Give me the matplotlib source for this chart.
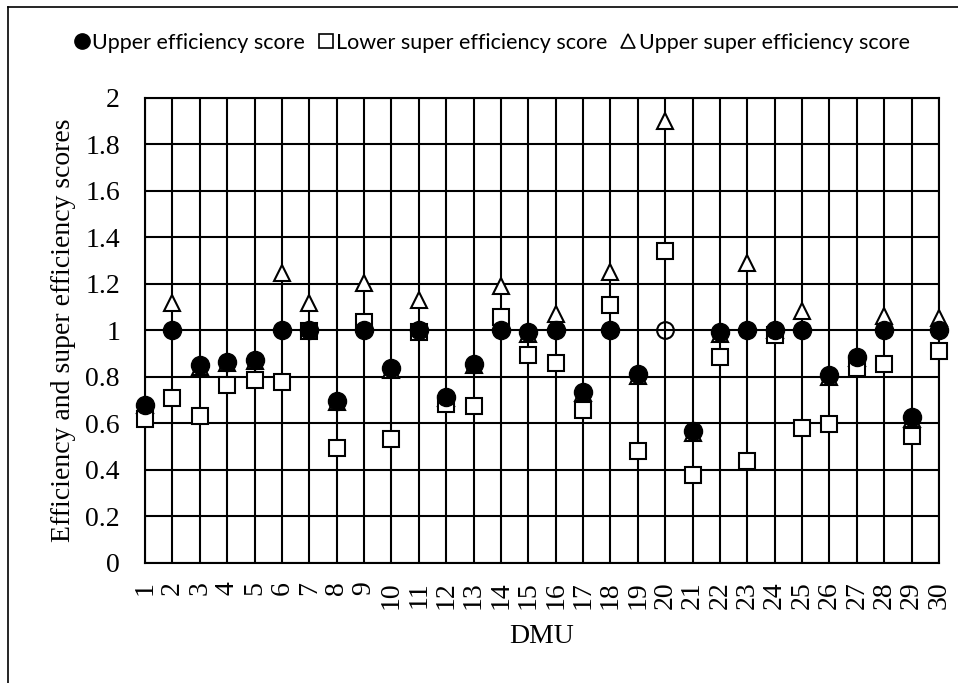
import matplotlib
matplotlib.use("Agg")
import matplotlib.pyplot as plt
from matplotlib.lines import Line2D

dmu = list(range(1, 31))
upper_eff = [0.677, 1.0, 0.85, 0.865, 0.873, 1.0, 1.0, 0.696, 1.0, 0.836,
             1.0, 0.714, 0.853, 1.0, 0.991, 1.0, 0.736, 1.0, 0.81, 1.0,
             0.566, 0.991, 1.0, 1.0, 1.0, 0.806, 0.887, 1.0, 0.628, 1.0]
lower_super = [0.618, 0.707, 0.63, 0.763, 0.785, 0.778, 0.995, 0.492, 1.037, 0.533,
               0.991, 0.684, 0.674, 1.055, 0.892, 0.859, 0.658, 1.107, 0.481, 1.342,
               0.376, 0.883, 0.437, 0.978, 0.578, 0.596, 0.836, 0.855, 0.544, 0.911]
upper_super = [0.677, 1.117, 0.84, 0.86, 0.87, 1.247, 1.117, 0.69, 1.203, 0.83,
               1.129, 0.71, 0.85, 1.188, 0.985, 1.07, 0.73, 1.25, 0.805, 1.899,
               0.56, 0.985, 1.287, 1.0, 1.081, 0.8, 0.88, 1.061, 0.62, 1.052]
# DMU 20 upper efficiency drawn as an open circle in the original
open_dmu = [20]

serif = "Liberation Serif"

fig = plt.figure(figsize=(9.58, 6.83), dpi=100)
ax = fig.add_axes([145 / 958, 1 - 563 / 683, 794 / 958, 465.5 / 683])

ax.plot(dmu, upper_super, ls="none", marker="^", ms=11, mfc="white", mec="black",
        mew=1.5, zorder=3, clip_on=False, label="Upper super efficiency score")
ax.plot(dmu, lower_super, ls="none", marker="s", ms=11, mfc="white", mec="black",
        mew=1.5, zorder=4, clip_on=False, label="Lower super efficiency score")

filled_x = [d for d in dmu if d not in open_dmu]
filled_y = [v for d, v in zip(dmu, upper_eff) if d not in open_dmu]
open_y = [v for d, v in zip(dmu, upper_eff) if d in open_dmu]
ax.plot(filled_x, filled_y, ls="none", marker="o", ms=13, mfc="black", mec="black",
        zorder=5, clip_on=False, label="Upper efficiency score")
ax.plot(open_dmu, open_y, ls="none", marker="o", ms=12, mfc="none", mec="black",
        mew=1.5, zorder=5, clip_on=False)

ax.set_xlim(1, 30)
ax.set_ylim(0, 2)
ax.set_xticks(dmu)
ax.set_xticklabels([str(d) for d in dmu], rotation=90, fontfamily=serif, fontsize=20)
ax.set_yticks([i / 5 for i in range(11)])
ax.set_yticklabels(["0", "0.2", "0.4", "0.6", "0.8", "1", "1.2", "1.4", "1.6", "1.8", "2"],
                   fontfamily=serif, fontsize=20)
ax.tick_params(axis="y", length=0, pad=18)
ax.tick_params(axis="x", length=0, pad=13)
ax.grid(True, color="black", lw=1.5)
ax.set_axisbelow(True)
for s in ax.spines.values():
    s.set_linewidth(1.5)

ax.set_xlabel("DMU", fontfamily=serif, fontsize=20)
ax.xaxis.set_label_coords(0.5, -0.131)
ax.set_ylabel("Efficiency and super efficiency scores", fontfamily=serif, fontsize=20)
ax.yaxis.set_label_coords(-0.087, 0.5)

handles = [
    Line2D([], [], ls="none", marker="o", ms=11, mfc="black", mec="black"),
    Line2D([], [], ls="none", marker="s", ms=10, mfc="white", mec="black", mew=1.2),
    Line2D([], [], ls="none", marker="^", ms=10, mfc="white", mec="black", mew=1.2),
]
fig.legend(handles, ["Upper efficiency score", "Lower super efficiency score",
                     "Upper super efficiency score"],
           loc="center", bbox_to_anchor=(492 / 958, 1 - 43 / 683), ncol=3,
           frameon=False, prop={"family": "Lato", "size": 15.5},
           handlelength=0.7, handletextpad=0.15, columnspacing=0.6)

# outer frame (left and top edges visible)
fig.add_artist(Line2D([8 / 958, 8 / 958], [0, 1 - 7 / 683], color="black", lw=1.2,
                      transform=fig.transFigure))
fig.add_artist(Line2D([8 / 958, 1], [1 - 7 / 683, 1 - 7 / 683], color="black", lw=1.2,
                      transform=fig.transFigure))

fig.savefig("out.png", dpi=100)
